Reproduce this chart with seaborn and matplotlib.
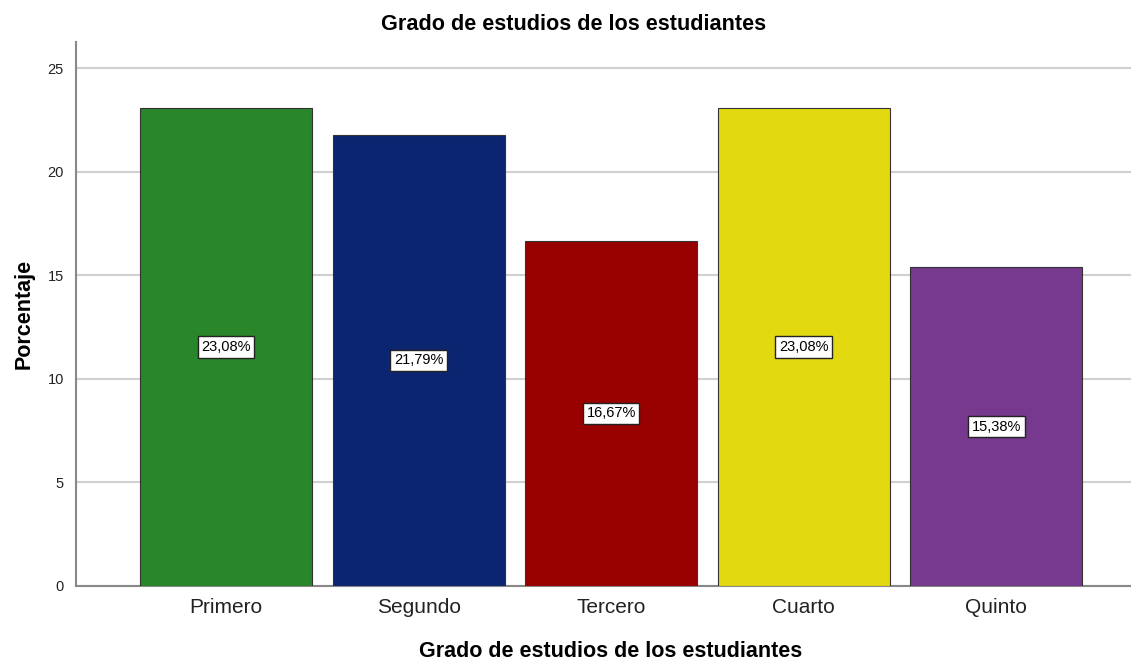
import matplotlib
matplotlib.use("Agg")
import matplotlib.pyplot as plt
import seaborn as sns
import pandas as pd

categories = ["Primero", "Segundo", "Tercero", "Cuarto", "Quinto"]
percentages = [23.08, 21.79, 16.67, 23.08, 15.38]
bar_labels = ["23,08%", "21,79%", "16,67%", "23,08%", "15,38%"]
colors = ["#2A862A", "#0B2570", "#990000", "#E3D910", "#76398D"]
yticks = [0, 5, 10, 15, 20, 25]

sns.set_theme(style="white")
plt.rcParams["font.family"] = ["Liberation Sans", "DejaVu Sans"]

df = pd.DataFrame({"Grado": categories, "Porcentaje": percentages})

fig = plt.figure(figsize=(11.31, 6.61), dpi=100)
ax = fig.add_axes([0.0676, 0.1139, 0.9324, 0.8226])

sns.barplot(data=df, x="Grado", y="Porcentaje", hue="Grado", palette=colors,
            order=categories, hue_order=categories, dodge=False, legend=False,
            saturation=1, width=0.894, edgecolor="#333333", linewidth=0.8,
            ax=ax, zorder=3)

for cont, lab in zip(ax.containers, bar_labels):
    ax.bar_label(cont, labels=[lab], label_type="center", fontsize=10.5, color="black",
                 bbox=dict(boxstyle="square,pad=0.25", facecolor="white",
                           edgecolor="#222222", linewidth=1.0))

ax.set_xlim(-0.777, 4.70)
ax.set_ylim(0, 26.28)
ax.set_yticks(yticks)
ax.set_yticklabels([str(t) for t in yticks], fontsize=10.5, color="#222222")
ax.tick_params(axis="x", labelsize=15, colors="#222222", length=0, pad=9)
ax.tick_params(axis="y", length=0, pad=9)
ax.yaxis.grid(True, color="#D0D0D0", linewidth=1.5, zorder=0)
ax.set_axisbelow(True)

for s in ["top", "right"]:
    ax.spines[s].set_visible(False)
for s in ["left", "bottom"]:
    ax.spines[s].set_color("#888888")
    ax.spines[s].set_linewidth(1.5)

fig.text(573.5 / 1131, 1 - 24 / 661, "Grado de estudios de los estudiantes",
         fontsize=15.6, fontweight="bold", color="black", ha="center", va="center")
ax.set_xlabel("Grado de estudios de los estudiantes", fontsize=15.5, fontweight="bold",
              color="black", va="center")
ax.xaxis.set_label_coords(0.507, -0.1205)
ax.set_ylabel("Porcentaje", fontsize=15.5, fontweight="bold", color="black", va="center")
ax.yaxis.set_label_coords(-0.0495, 0.50)

fig.savefig("out.png", dpi=100)
